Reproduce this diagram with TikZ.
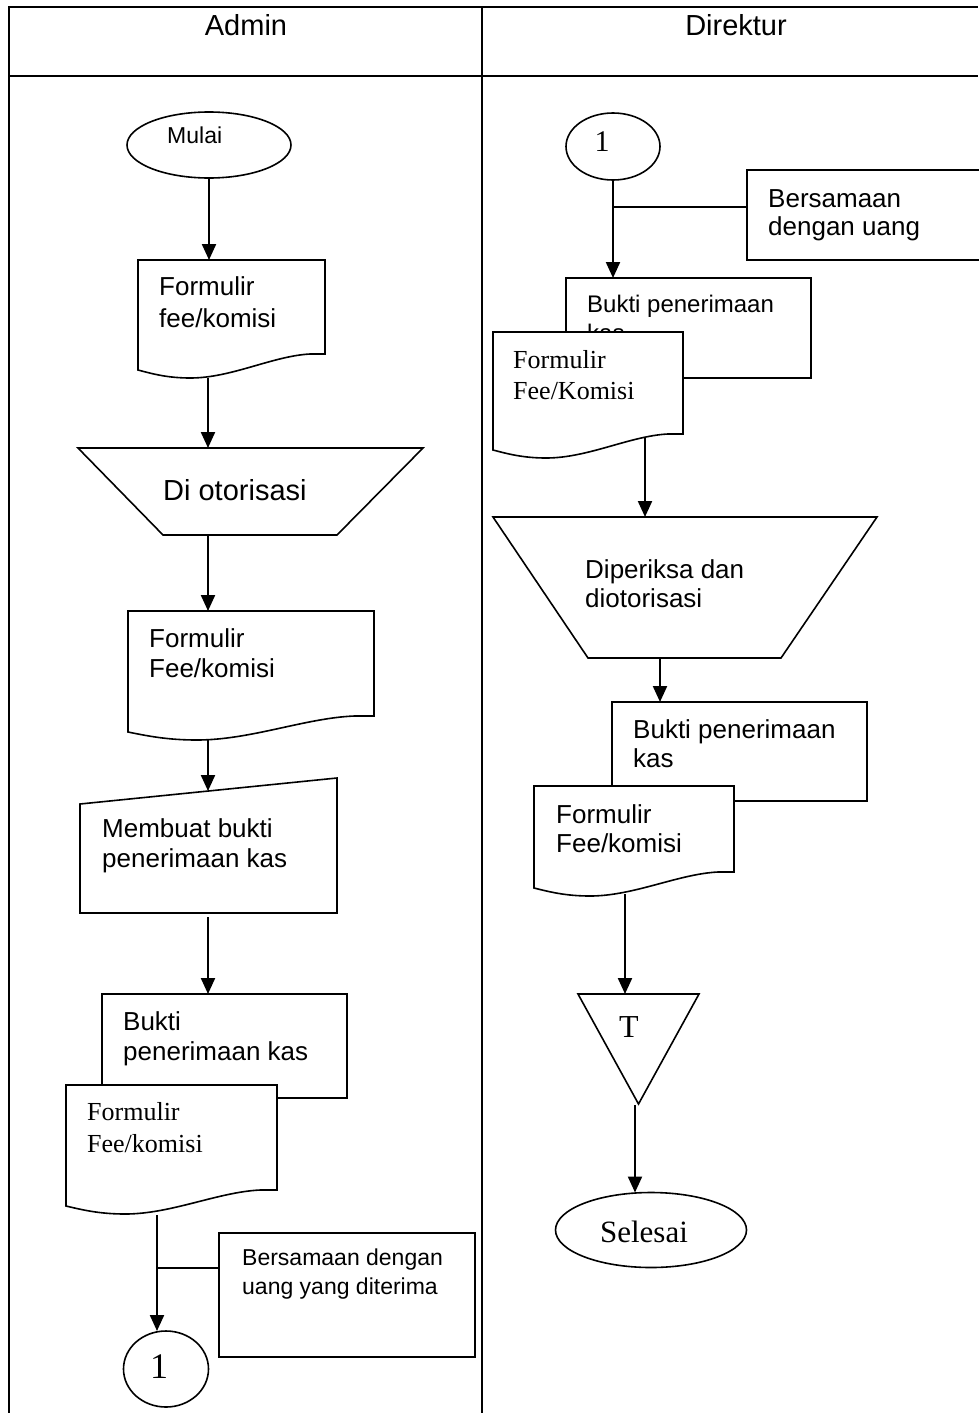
\documentclass[tikz,border=0pt]{standalone}
\usepackage{fontspec}
\setmainfont{Liberation Sans}
\newfontfamily\timesfont{Liberation Serif}
\usetikzlibrary{shapes.geometric,arrows.meta,calc}

% document symbol: flat top, wavy bottom (node = bounding rectangle)
\newcommand\drawdocument[1]{%
  \draw[outline] (#1.north west) -- (#1.north east) -- ($(#1.south east)+(0,-24)$)
    -- ($(#1.south west)!0.92!(#1.south east)+(0,-24)$)
    .. controls ($(#1.south west)!0.72!(#1.south east)+(0,-22)$) and ($(#1.south west)!0.5!(#1.south east)$) .. ($(#1.south west)!0.28!(#1.south east)$)
    .. controls ($(#1.south west)!0.16!(#1.south east)$) and ($(#1.south west)!0.08!(#1.south east)+(0,-4)$) .. ($(#1.south west)+(0,-8)$)
    -- cycle;}

\begin{document}
\begin{tikzpicture}[x=1pt,y=-1pt,
  frame/.style={line width=2.2pt},
  outline/.style={draw=black,line width=1.6pt,fill=white},
  holder/.style={rectangle,draw=none,inner sep=0pt,outer sep=0pt},
  oval/.style={ellipse,draw=black,line width=1.6pt,fill=white,inner sep=0pt,outer sep=0pt},
  boxed/.style={rectangle,draw=black,line width=1.6pt,fill=white,inner sep=0pt,outer sep=0pt},
  flow/.style={line width=2.2pt,-{Triangle[length=16pt,width=14pt]}},
  tie/.style={line width=1.6pt},
  txt/.style={inner sep=0pt,anchor=base west,font=\fontsize{26}{31}\selectfont},
  stxt/.style={inner sep=0pt,anchor=base west,font=\fontsize{23}{28}\selectfont},
  rtxt/.style={inner sep=0pt,anchor=base west,font=\timesfont\fontsize{26}{31}\selectfont},
]
\useasboundingbox (0,0) rectangle (978,1413);

% swimlane frame
\draw[frame] (9,1413) -- (9,7) -- (978,7);
\draw[frame] (9,76) -- (978,76);
\draw[frame] (482,7) -- (482,1413);
\node[inner sep=0pt,anchor=base,font=\fontsize{29}{34}\selectfont] (hadmin) at (246,36) {Admin};
\node[inner sep=0pt,anchor=base,font=\fontsize{29}{34}\selectfont] (hdir) at (736,36) {Direktur};

% ---------------- Admin lane ----------------
\node[oval,minimum width=164pt,minimum height=66pt] (start) at (209,145) {};
\node[stxt] (startt) at (167,143) {Mulai};

\node[holder,minimum width=187pt,minimum height=118pt] (d1) at (231.5,319) {};
\drawdocument{d1}
\node[txt] (d1a) at (159,295) {Formulir};
\node[txt] (d1b) at (159,327) {fee/komisi};

\node[holder,minimum width=345pt,minimum height=87pt] (a1) at (250.5,491.5) {};
\draw[outline] (a1.north west) -- (a1.north east) -- ($(a1.south east)+(-86,0)$) -- ($(a1.south west)+(85,0)$) -- cycle;
\node[inner sep=0pt,anchor=base west,font=\fontsize{29}{34}\selectfont] (a1t) at (163,500) {Di otorisasi};

\node[holder,minimum width=246pt,minimum height=129pt] (d2) at (251,675.5) {};
\drawdocument{d2}
\node[txt] (d2a) at (149,647) {Formulir};
\node[txt] (d2b) at (149,677) {Fee/komisi};

\node[holder,minimum width=257pt,minimum height=135pt] (m1) at (208.5,845.5) {};
\draw[outline] ($(m1.north west)+(0,26)$) -- (m1.north east) -- (m1.south east) -- (m1.south west) -- cycle;
\node[txt] (m1a) at (102,837) {Membuat bukti};
\node[txt] (m1b) at (102,867) {penerimaan kas};

\node[boxed,minimum width=245pt,minimum height=104pt] (b1) at (224.5,1046) {};
\node[txt] (b1a) at (123,1030) {Bukti};
\node[txt] (b1b) at (123,1060) {penerimaan kas};

\node[holder,minimum width=211pt,minimum height=129pt] (d3) at (171.5,1149.5) {};
\drawdocument{d3}
\node[rtxt] (d3a) at (87,1120) {Formulir};
\node[rtxt] (d3b) at (87,1152) {Fee/komisi};

\node[boxed,minimum width=256pt,minimum height=124pt] (c1) at (347,1295) {};
\node[stxt] (c1a) at (242,1265) {Bersamaan dengan};
\node[stxt] (c1b) at (242,1294) {uang yang diterima};

\node[oval,minimum width=85pt,minimum height=76pt] (o1) at (166,1369) {};
\node[inner sep=0pt,font=\timesfont\fontsize{36}{40}\selectfont] (o1t) at (159,1367) {1};

% Admin lane connectors
\coordinate (colL) at (208,0);
\draw[flow] (start.south) -- (start.south |- d1.north);
\draw[flow] (colL |- d1.south) -- (colL |- a1.north);
\draw[flow] (colL |- a1.south) -- (colL |- d2.north);
\coordinate (m1in) at ($($(m1.north west)+(0,26)$)!0.5!(m1.north east)$);
\draw[flow] (colL |- d2.south) -- (colL |- m1in);
\draw[flow] ($(colL |- m1.south)+(0,4)$) -- (colL |- b1.north);
\coordinate (d3out) at ($(d3.south west)+(91,1)$);
\draw[flow] (d3out) -- (d3out |- o1.north);
\coordinate (j1) at (157,1268);
\draw[tie] (j1) -- (j1 -| c1.west);

% ---------------- Direktur lane ----------------
\node[oval,minimum width=94pt,minimum height=67pt] (o2) at (613,146.5) {};
\node[inner sep=0pt,font=\timesfont\fontsize{30}{34}\selectfont] (o2t) at (602,142) {1};

\node[boxed,minimum width=253pt,minimum height=90pt] (n2) at (873.5,215) {};
\node[txt] (n2a) at (768,207) {Bersamaan};
\node[txt] (n2b) at (768,235) {dengan uang};

\node[boxed,minimum width=245pt,minimum height=100pt] (b2) at (688.5,328) {};
\node[inner sep=0pt,anchor=base west,font=\fontsize{24}{29}\selectfont] (b2a) at (587,312) {Bukti penerimaan};
\node[inner sep=0pt,anchor=base west,font=\fontsize{24}{29}\selectfont] (b2b) at (587,341) {kas};

\draw[flow] (o2.south) -- (o2.south |- b2.north);
\coordinate (j2) at (613,207);
\draw[tie] (j2) -- (j2 -| n2.west);

\node[holder,minimum width=190pt,minimum height=126pt] (d4) at (588,395) {};
\drawdocument{d4}
\node[rtxt] (d4a) at (513,368) {Formulir};
\node[rtxt] (d4b) at (513,399) {Fee/Komisi};

\node[holder,minimum width=384pt,minimum height=141pt] (t2) at (685,587.5) {};
\draw[outline] (t2.north west) -- (t2.north east) -- ($(t2.south east)+(-96,0)$) -- ($(t2.south west)+(95,0)$) -- cycle;
\node[txt] (t2a) at (585,578) {Diperiksa dan};
\node[txt] (t2b) at (585,607) {diotorisasi};

\node[boxed,minimum width=255pt,minimum height=99pt] (b3) at (739.5,751.5) {};
\node[txt] (b3a) at (633,738) {Bukti penerimaan};
\node[txt] (b3b) at (633,767) {kas};

\node[holder,minimum width=200pt,minimum height=110pt] (d5) at (634,841) {};
\drawdocument{d5}
\node[txt] (d5a) at (556,823) {Formulir};
\node[txt] (d5b) at (556,852) {Fee/komisi};

\node[holder,minimum width=121pt,minimum height=110pt] (tri) at (638.5,1049) {};
\draw[outline] (tri.north west) -- (tri.north east) -- (tri.south) -- cycle;
\node[inner sep=0pt,font=\timesfont\fontsize{32}{36}\selectfont] (trit) at (629,1027) {T};

\node[oval,minimum width=191pt,minimum height=75pt] (end) at (651,1230) {};
\node[inner sep=0pt,font=\timesfont\fontsize{31}{36}\selectfont] (endt) at (644,1232) {Selesai};

% Direktur lane connectors
\coordinate (d4out) at (645,438);
\draw[flow] (d4out) -- (d4out |- t2.north);
\coordinate (t2out) at ($(t2.south)+(-25,0)$);
\draw[flow] (t2out) -- (t2out |- b3.north);
\coordinate (d5out) at (625,894);
\draw[flow] (d5out) -- (d5out |- tri.north);
\coordinate (triout) at (635,1105);
\draw[flow] (triout) -- (triout |- end.north);
\end{tikzpicture}
\end{document}
